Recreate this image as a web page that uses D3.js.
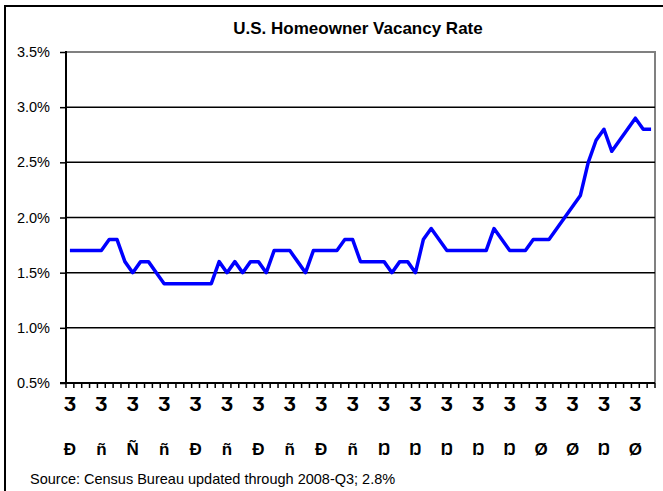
<!DOCTYPE html>
<html>
<head>
<meta charset="utf-8">
<script src="https://cdn.jsdelivr.net/npm/d3@7"></script>
<style>
  body { margin: 0; background: #fff; }
  svg { display: block; font-family: "Liberation Sans", Arial, sans-serif; }
</style>
</head>
<body>
<svg id="chart" width="663" height="491"></svg>
<script>
// quarterly rate, 1990-Q1 .. 2008-Q3
var years = d3.range(1990, 2009);
var quarters = [];
years.forEach(function(y) {
  [1, 2, 3, 4].forEach(function(q) {
    if (y < 2008 || q <= 3) quarters.push(y + "-Q" + q);
  });
});
var rates = [
  1.7, 1.7, 1.7, 1.7, 1.7, 1.8, 1.8, 1.6, 1.5, 1.6,
  1.6, 1.5, 1.4, 1.4, 1.4, 1.4, 1.4, 1.4, 1.4, 1.6,
  1.5, 1.6, 1.5, 1.6, 1.6, 1.5, 1.7, 1.7, 1.7, 1.6,
  1.5, 1.7, 1.7, 1.7, 1.7, 1.8, 1.8, 1.6, 1.6, 1.6,
  1.6, 1.5, 1.6, 1.6, 1.5, 1.8, 1.9, 1.8, 1.7, 1.7,
  1.7, 1.7, 1.7, 1.7, 1.9, 1.8, 1.7, 1.7, 1.7, 1.8,
  1.8, 1.8, 1.9, 2.0, 2.1, 2.2, 2.5, 2.7, 2.8, 2.6,
  2.7, 2.8, 2.9, 2.8, 2.8
];
var yTicks = [0.5, 1.0, 1.5, 2.0, 2.5, 3.0, 3.5];
// the axis labels come out as broken glyphs in the original
var labelTop = "\u04E0";
var labelBottom = ["Ð", "ñ", "Ñ", "ñ", "Ð", "ñ", "Ð", "ñ", "Ð", "ñ",
                   "Ŋ", "Ŋ", "Ŋ", "Ŋ", "Ŋ", "Ø", "Ø", "Ŋ", "Ø"];

var svg = d3.select("#chart");
var plotL = 66, plotR = 655, plotT = 52, plotB = 383;

// outer frame
svg.append("rect")
  .attr("x", 5).attr("y", 6)
  .attr("width", 700).attr("height", 520)
  .attr("fill", "none").attr("stroke", "#000").attr("stroke-width", 2);

svg.append("text")
  .attr("x", 358).attr("y", 34)
  .attr("text-anchor", "middle")
  .style("font-size", "17px").style("font-weight", "bold")
  .text("U.S. Homeowner Vacancy Rate");

var x = d3.scaleBand().domain(quarters).range([plotL, plotR]);
var y = d3.scaleLinear().domain([0.5, 3.5]).range([plotB, plotT]);

// plot border (grey top / right)
svg.append("path")
  .attr("d", "M" + plotL + "," + plotT + "H" + plotR + "V" + plotB)
  .attr("fill", "none").attr("stroke", "#808080").attr("stroke-width", 2);

// gridlines
svg.append("g").selectAll("line")
  .data(yTicks.filter(function(d) { return d > 0.5 && d < 3.5; }))
  .enter().append("line")
    .attr("x1", plotL).attr("x2", plotR)
    .attr("y1", function(d) { return y(d); })
    .attr("y2", function(d) { return y(d); })
    .attr("stroke", "#000").attr("stroke-width", 1.5);

// y axis
var yAxis = svg.append("g")
  .attr("transform", "translate(" + plotL + ",0)")
  .call(d3.axisLeft(y).tickValues(yTicks).tickSize(6).tickPadding(10));
yAxis.select(".domain").attr("stroke-width", 2).attr("d", "M0," + (plotT - 1) + "V" + plotB);
yAxis.selectAll(".tick line").attr("stroke-width", 1.5);
yAxis.selectAll(".tick text")
  .text(function(d) { return d.toFixed(1) + "%"; })
  .style("font-size", "14.5px").style("font-family", "'Liberation Sans', Arial, sans-serif")
  .attr("fill", "#000");

// x axis with ticks on category boundaries
var xg = svg.append("g");
xg.append("line")
  .attr("x1", plotL - 6).attr("x2", plotR)
  .attr("y1", plotB).attr("y2", plotB)
  .attr("stroke", "#000").attr("stroke-width", 2);
xg.selectAll("line.tk")
  .data(quarters.concat(["end"]))
  .enter().append("line")
    .attr("class", "tk")
    .attr("x1", function(d, i) { return i < quarters.length ? x(d) : plotR; })
    .attr("x2", function(d, i) { return i < quarters.length ? x(d) : plotR; })
    .attr("y1", plotB).attr("y2", plotB + 5)
    .attr("stroke", "#000").attr("stroke-width", 1.5);

var labelled = quarters.filter(function(d) { return /Q1$/.test(d); });
xg.selectAll("text.top")
  .data(labelled)
  .enter().append("text")
    .attr("class", "top")
    .attr("x", function(d) { return x(d) + x.bandwidth() / 2; })
    .attr("y", 411)
    .attr("text-anchor", "middle")
    .style("font-size", "20px").style("font-weight", "bold")
    .text(labelTop);
xg.selectAll("text.bot")
  .data(labelled)
  .enter().append("text")
    .attr("class", "bot")
    .attr("x", function(d) { return x(d) + x.bandwidth() / 2; })
    .attr("y", 455)
    .attr("text-anchor", "middle")
    .style("font-size", "17px").style("font-weight", "bold")
    .text(function(d, i) { return labelBottom[i]; });

// series
var line = d3.line()
  .x(function(d, i) { return x(quarters[i]) + x.bandwidth() / 2; })
  .y(function(d) { return y(d); });

svg.append("path")
  .datum(rates)
  .attr("d", line)
  .attr("fill", "none")
  .attr("stroke", "#0000ff")
  .attr("stroke-width", 3.5)
  .attr("stroke-linejoin", "round");

svg.append("text")
  .attr("x", 30).attr("y", 484)
  .style("font-size", "14.5px")
  .text("Source: Census Bureau updated through 2008-Q3; 2.8%");
</script>
</body>
</html>
